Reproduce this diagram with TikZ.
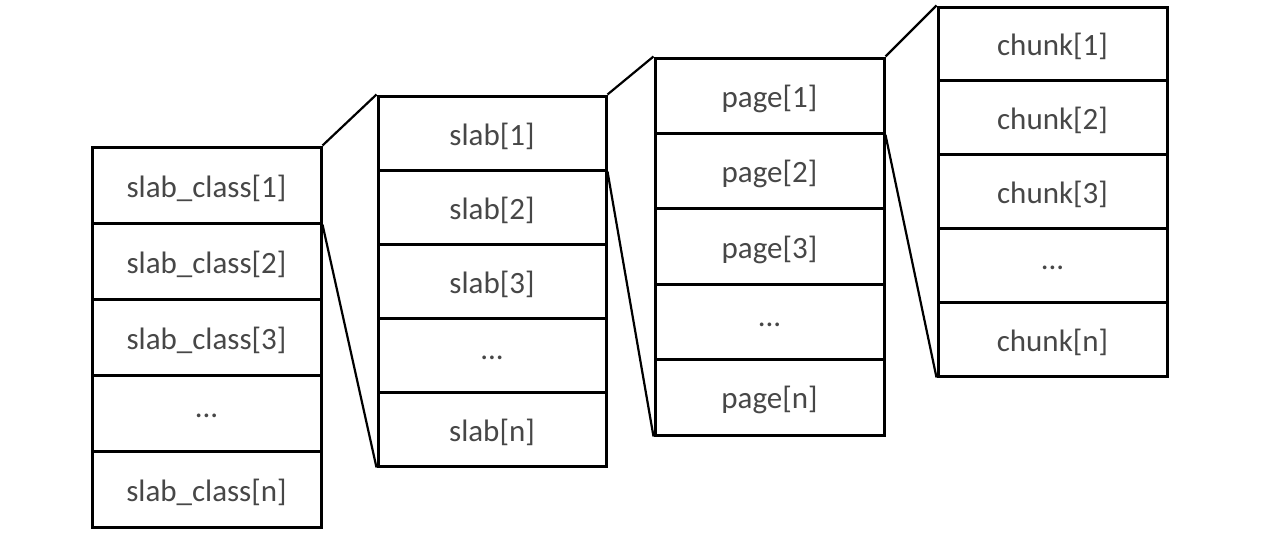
\documentclass[tikz,border=0pt]{standalone}
\usepackage{fontspec}
\setmainfont{Carlito}
\newcommand\mydots{...}
\begin{document}
\begin{tikzpicture}[x=1pt,y=-1pt,
  cell/.style={draw=black,line width=3pt,inner sep=0pt,minimum width=229pt,
    label={[txt]center:#1}},
  txt/.style={text=black!72,font=\fontsize{31}{36}\selectfont,inner sep=0pt,yshift=-3pt},
  link/.style={draw=black,line width=2.2pt}]
\useasboundingbox (0,0) rectangle (1269,554);
% column 1
\foreach \i/\t/\lab in {1/147/slab\_class[1],2/223/slab\_class[2],3/299/slab\_class[3],4/375/\mydots,5/451/slab\_class[n]}
  \node[cell=\lab,minimum height=76pt] (a\i) at (206.5,\t+38) {};
% column 2
\foreach \i/\t/\lab in {1/96/slab[1],2/170/slab[2],3/244/slab[3],4/318/\mydots,5/392/slab[n]}
  \node[cell=\lab,minimum width=228pt,minimum height=74pt] (b\i) at (492,\t+37) {};
% column 3
\foreach \i/\t/\lab in {1/58/page[1],2/133.4/page[2],3/208.8/page[3],4/284.2/\mydots,5/359.6/page[n]}
  \node[cell=\lab,minimum height=75.4pt] (c\i) at (769.5,\t+37.7) {};
% column 4
\foreach \i/\t/\lab in {1/7/chunk[1],2/80.8/chunk[2],3/154.6/chunk[3],4/228.4/\mydots,5/302.2/chunk[n]}
  \node[cell=\lab,minimum height=73.8pt] (d\i) at (1052.5,\t+36.9) {};
% connectors
\draw[link] (a1.north east) -- (b1.north west);
\draw[link] (a1.south east) -- (b5.south west);
\draw[link] (b1.north east) -- (c1.north west);
\draw[link] (b1.south east) -- (c5.south west);
\draw[link] (c1.north east) -- (d1.north west);
\draw[link] (c1.south east) -- (d5.south west);
\end{tikzpicture}
\end{document}
